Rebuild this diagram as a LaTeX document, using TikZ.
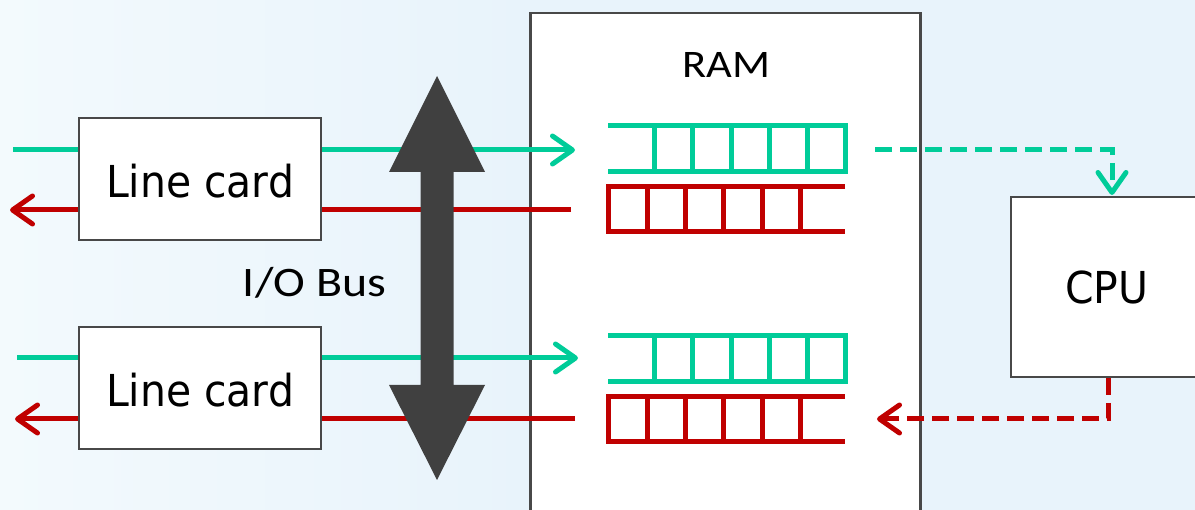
\documentclass[tikz,border=0pt]{standalone}
\usepackage{fontspec}
\usetikzlibrary{arrows.meta}
\newfontfamily\tfont{DejaVu Sans}[FakeStretch=0.93]
\newfontfamily\cfont{Carlito}[FakeStretch=1.14]
\definecolor{tgreen}{RGB}{0,204,153}
\definecolor{tred}{RGB}{192,0,0}
\definecolor{bord}{RGB}{72,72,72}
\definecolor{bgleft}{RGB}{243,250,253}
\definecolor{bgblue}{RGB}{232,243,251}
\definecolor{busgray}{RGB}{64,64,64}
\begin{document}
\begin{tikzpicture}[x=1pt,y=-1pt,
  box/.style={draw=bord,line width=2.5pt,fill=white,inner sep=0pt,
    font=\tfont\fontsize{44}{50}\selectfont},
  lbl/.style={inner sep=0pt,font=\cfont\fontsize{41}{46}\selectfont},
  gline/.style={draw=tgreen,line width=5pt},
  rline/.style={draw=tred,line width=5pt},
  qline/.style={line width=5pt,line join=miter},
  tipend/.style={-{Straight Barb[length=20pt,width=28pt,line cap=round,line join=round]}},
  dashline/.style={dash pattern=on 17pt off 8pt}
]
\useasboundingbox (0,0) rectangle (1195,510);
\clip (0,0) rectangle (1195,510);
\shade[left color=bgleft,right color=bgblue] (0,0) rectangle (530,510);
\fill[bgblue] (529,0) rectangle (1195,510);

% RAM box
\node[draw=bord,line width=2.5pt,fill=white,inner sep=0pt,anchor=north west,
      minimum width=390pt,minimum height=530pt] (ram) at (529,12) {};
\node[lbl,font=\cfont\fontsize{39}{44}\selectfont] (ramlbl) at (726.5,65) {RAM};

% queues (upper)
\draw[qline,tgreen] (608,126) -- (845,126) -- (845,172) -- (608,172);
\foreach \x in {654,692.5,731,769,807} \draw[qline,tgreen] (\x,126) -- (\x,172);
\draw[qline,tred] (845,187) -- (608,187) -- (608,232) -- (845,232);
\foreach \x in {647,685,723,762,800} \draw[qline,tred] (\x,187) -- (\x,232);
% queues (lower)
\draw[qline,tgreen] (608,336) -- (845,336) -- (845,382) -- (608,382);
\foreach \x in {654,692.5,731,769,807} \draw[qline,tgreen] (\x,336) -- (\x,382);
\draw[qline,tred] (845,397) -- (608,397) -- (608,442) -- (845,442);
\foreach \x in {647,685,723,762,800} \draw[qline,tred] (\x,397) -- (\x,442);

\coordinate (gq1) at (575,150);
\coordinate (rq1) at (571,210);
\coordinate (gq2) at (578,358);
\coordinate (rq2) at (575,419);
\coordinate (gin1) at (13,150);
\coordinate (rout1) at (10,210);
\coordinate (gin2) at (17,358);
\coordinate (rout2) at (15,419);

% line arrows
\draw[gline,tipend] (gin1) -- (gq1);
\draw[rline,tipend] (rq1) -- (rout1);
\draw[gline,tipend] (gin2) -- (gq2);
\draw[rline,tipend] (rq2) -- (rout2);

% line cards
\node[box,minimum width=242pt,minimum height=122pt,text height=38pt,text depth=0pt] (lc1) at (200,179) {Line card};
\node[box,minimum width=242pt,minimum height=122pt,text height=38pt,text depth=0pt] (lc2) at (200,388) {Line card};

% I/O bus
\fill[busgray] (437,76) -- (485,172) -- (453.5,172) -- (453.5,385) -- (485,385)
  -- (437,480) -- (389,385) -- (420.5,385) -- (420.5,172) -- (389,172) -- cycle;
\node[lbl,font=\cfont\fontsize{42}{46}\selectfont] (bus) at (314.5,283) {I/O Bus};

% CPU
\node[box,minimum width=192pt,minimum height=180pt] (cpu) at (1107,287) {CPU};
\coordinate (gout) at (875,150);
\coordinate (cpuin) at (1112,195);
\coordinate (cpuout) at (1108,378);
\coordinate (rin) at (877,419);
\draw[gline,dashline,tipend] (gout) -| (cpuin);
\draw[rline,dashline,tipend] (cpuout) |- (rin);
\end{tikzpicture}
\end{document}
